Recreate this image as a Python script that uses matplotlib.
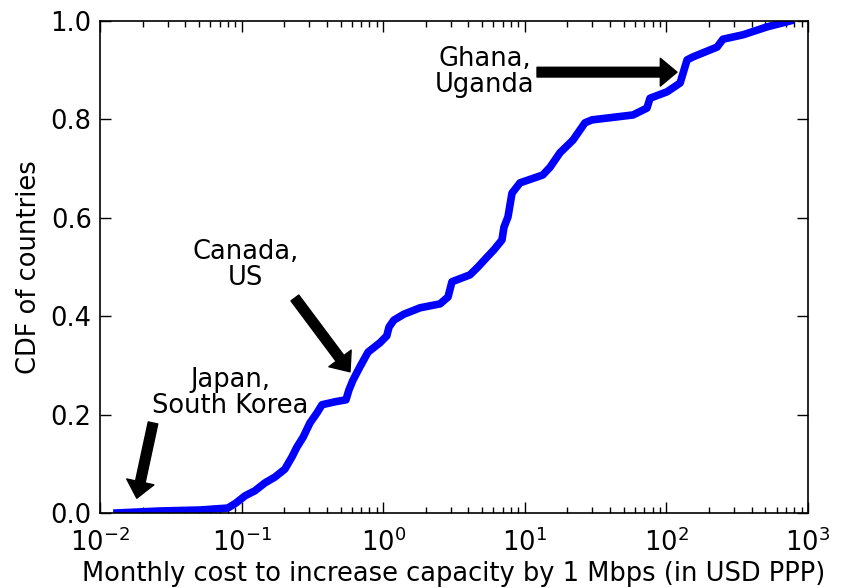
import matplotlib
matplotlib.use("Agg")
import matplotlib.pyplot as plt
from matplotlib.ticker import LogLocator, NullFormatter

# monthly cost (USD PPP) and the CDF value
cost = [0.0132, 0.0266, 0.0508, 0.080, 0.091, 0.106, 0.124, 0.146, 0.172, 0.202,
        0.227, 0.246, 0.272, 0.304, 0.340, 0.370, 0.457, 0.546, 0.573, 0.612,
        0.685, 0.782, 0.949, 1.06, 1.10, 1.19, 1.40, 1.82, 2.52, 2.87,
        3.06, 4.10, 4.67, 5.41, 6.06, 6.90, 7.13, 7.61, 8.12, 9.25,
        13.4, 15.1, 17.7, 21.9, 26.6, 29.8, 58.1, 72.9, 76.6, 101,
        125, 140, 154, 228, 251, 348, 513, 746]
cdf = [0.0, 0.004, 0.006, 0.010, 0.020, 0.035, 0.045, 0.061, 0.073, 0.089,
       0.114, 0.134, 0.154, 0.183, 0.203, 0.220, 0.226, 0.230, 0.250, 0.270,
       0.297, 0.327, 0.346, 0.360, 0.378, 0.392, 0.404, 0.417, 0.425, 0.439,
       0.470, 0.484, 0.500, 0.520, 0.535, 0.555, 0.581, 0.602, 0.650, 0.671,
       0.687, 0.703, 0.732, 0.758, 0.793, 0.799, 0.809, 0.823, 0.843, 0.856,
       0.874, 0.921, 0.927, 0.947, 0.963, 0.972, 0.988, 1.0]

# annotations: label, text centre, arrow tail, arrow tip
notes = [
    ("Ghana,\nUganda", (5.24, 0.896), (12.2, 0.896), (118.8, 0.896)),
    ("Canada,\nUS", (0.106, 0.504), (0.238, 0.437), (0.583, 0.287)),
    ("Japan,\nSouth Korea", (0.083, 0.244), (0.0237, 0.183), (0.0182, 0.030)),
]

fs = 18.5

fig = plt.figure(figsize=(8.5, 5.88), dpi=100)
ax = fig.add_axes([0.1176, 0.1276, 0.8330, 0.8367])

ax.plot(cost, cdf, color="#0000ff", lw=5.5, solid_joinstyle="round")

ax.set_xscale("log")
ax.set_xlim(1e-2, 1e3)
ax.set_ylim(0, 1.0)
ax.set_yticks([0.0, 0.2, 0.4, 0.6, 0.8, 1.0])
ax.set_yticklabels(["0.0", "0.2", "0.4", "0.6", "0.8", "1.0"])
ax.xaxis.set_minor_locator(LogLocator(base=10, subs=range(2, 10)))
ax.xaxis.set_minor_formatter(NullFormatter())

ax.tick_params(which="both", direction="in", top=True, right=True, labelsize=fs, width=1)
ax.tick_params(which="major", length=8)
ax.tick_params(which="minor", length=4)
ax.tick_params(axis="x", which="major", pad=11)
ax.tick_params(axis="y", which="major", pad=6)
for s in ax.spines.values():
    s.set_linewidth(1.2)

ax.set_xlabel("Monthly cost to increase capacity by 1 Mbps (in USD PPP)", fontsize=fs, labelpad=3)
ax.set_ylabel("CDF of countries", fontsize=fs, labelpad=6)

for label, pos, tail, tip in notes:
    ax.text(pos[0], pos[1], label, fontsize=fs, ha="center", va="center",
            linespacing=1.0)
    ax.annotate("", xy=tip, xytext=tail,
                arrowprops=dict(facecolor="black", edgecolor="black",
                                width=7, headwidth=20, headlength=12, shrink=0.0))

fig.savefig("out.png", dpi=100)
